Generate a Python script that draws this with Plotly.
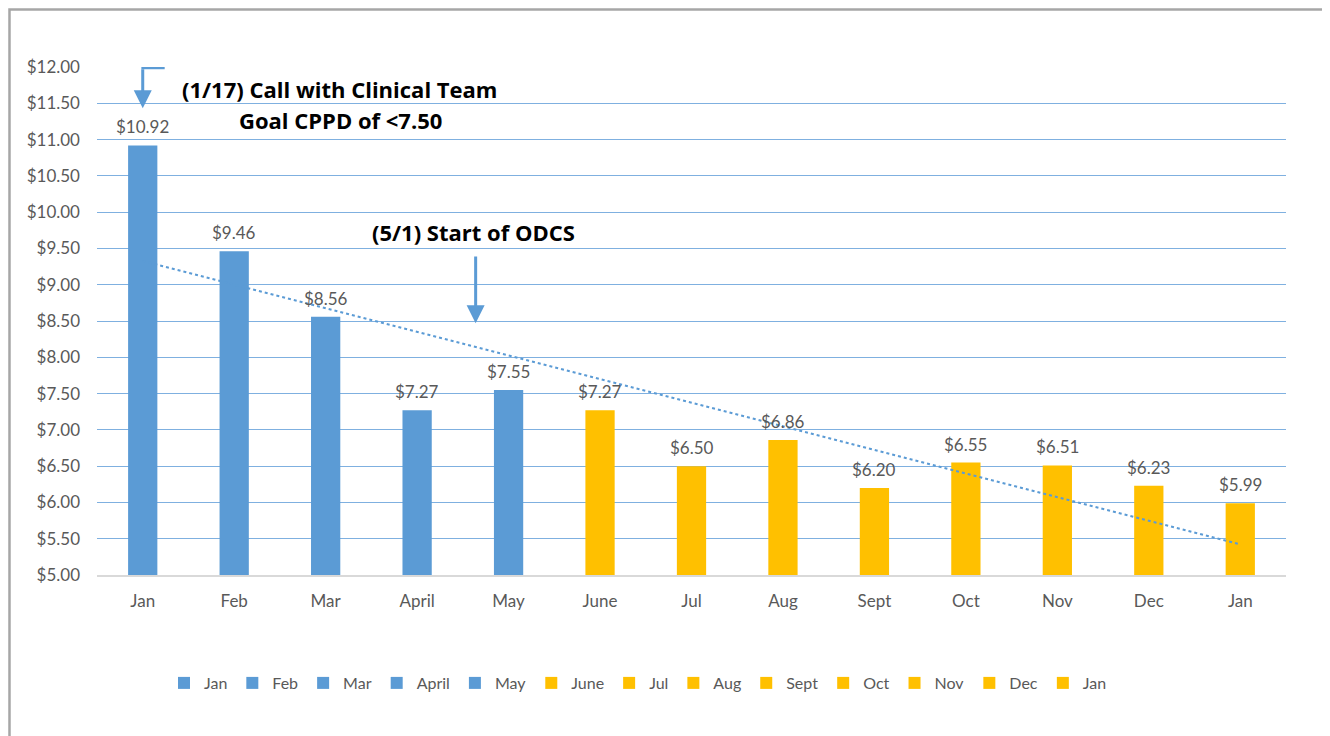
import numpy as np
import plotly.graph_objects as go

months = ["Jan", "Feb", "Mar", "April", "May", "June", "Jul", "Aug", "Sept", "Oct", "Nov", "Dec", "Jan"]
values = [10.92, 9.46, 8.56, 7.27, 7.55, 7.27, 6.50, 6.86, 6.20, 6.55, 6.51, 6.23, 5.99]
phase = ["before"] * 5 + ["after"] * 8
phase_colors = {"before": "#5B9BD5", "after": "#FFC000"}
y_ticks = [5.0 + 0.5 * k for k in range(15)]

FONT = "Lato, 'Open Sans', sans-serif"
BOLD_FONT = "'Open Sans', Lato, sans-serif"
GRAY = "#595959"
BLUE = "#5B9BD5"

xs = list(range(len(months)))
fig = go.Figure()
for i, (m, v, p) in enumerate(zip(months, values, phase)):
    fig.add_trace(go.Bar(
        x=[i], y=[v], name=m, width=0.32,
        marker=dict(color=phase_colors[p], line=dict(width=0)),
        showlegend=True,
    ))

# linear trendline fitted to the values
coef = np.polyfit(xs, values, 1)
trend = np.polyval(coef, [xs[0], xs[-1]])
fig.add_trace(go.Scatter(
    x=[xs[0], xs[-1]], y=trend, mode="lines",
    line=dict(color=BLUE, width=2, dash="dot"),
    showlegend=False, hoverinfo="skip",
))

annotations = []
for i, v in enumerate(values):
    annotations.append(dict(
        x=i, y=v, xref="x", yref="y", text=f"${v:.2f}", showarrow=False,
        yanchor="bottom", yshift=6, font=dict(family=FONT, size=17, color=GRAY),
    ))

annotations += [
    dict(x=2.155, y=11.70, xref="x", yref="y", text="<b>(1/17) Call with Clinical Team</b>",
         showarrow=False, font=dict(family=BOLD_FONT, size=22, color="#000000")),
    dict(x=2.166, y=11.27, xref="x", yref="y", text="<b>Goal CPPD of &lt;7.50</b>",
         showarrow=False, font=dict(family=BOLD_FONT, size=22, color="#000000")),
    dict(x=3.62, y=9.73, xref="x", yref="y", text="<b>(5/1) Start of ODCS</b>",
         showarrow=False, font=dict(family=BOLD_FONT, size=22, color="#000000")),
    # arrows
    dict(x=0, y=11.43, ax=0, ay=11.99, xref="x", yref="y", axref="x", ayref="y",
         text="", showarrow=True, arrowhead=2, arrowsize=1.2, arrowwidth=3, arrowcolor=BLUE),
    dict(x=3.64, y=8.47, ax=3.64, ay=9.41, xref="x", yref="y", axref="x", ayref="y",
         text="", showarrow=True, arrowhead=2, arrowsize=1.2, arrowwidth=3, arrowcolor=BLUE),
]

shapes = [
    dict(type="line", xref="x", yref="y", x0=-0.015, x1=0.24, y0=11.99, y1=11.99,
         line=dict(color=BLUE, width=3)),
    dict(type="rect", xref="paper", yref="paper", x0=-0.0736, x1=1.0345, y0=-0.33, y1=1.1132,
         line=dict(color="#A6A6A6", width=2.5), fillcolor="rgba(0,0,0,0)", layer="below"),
]

fig.update_layout(
    width=1330, height=736,
    margin=dict(l=89, r=52, t=59, b=169),
    paper_bgcolor="white", plot_bgcolor="white",
    barmode="overlay",
    font=dict(family=FONT, size=17, color=GRAY),
    annotations=annotations, shapes=shapes,
    legend=dict(orientation="h", x=0.455, xanchor="center", y=-0.2126, yanchor="middle",
                font=dict(family=FONT, size=16, color=GRAY), traceorder="normal",
                itemwidth=30, tracegroupgap=0),
    xaxis=dict(range=[-0.5, 12.5], tickmode="array", tickvals=xs, ticktext=months,
               showgrid=False, showline=True, linecolor="#D9D9D9", linewidth=1.5,
               ticks="", ticklabelstandoff=10, zeroline=False,
               tickfont=dict(family=FONT, size=17, color=GRAY)),
    yaxis=dict(range=[5, 12], tickmode="array", tickvals=y_ticks,
               ticktext=[f"${t:.2f}" for t in y_ticks],
               showgrid=True, gridcolor="#7FB0E0", gridwidth=1, zeroline=False,
               showline=False, ticks="", ticklabelstandoff=16,
               tickfont=dict(family=FONT, size=17, color=GRAY)),
    showlegend=True,
)

fig.write_html("out.html")
